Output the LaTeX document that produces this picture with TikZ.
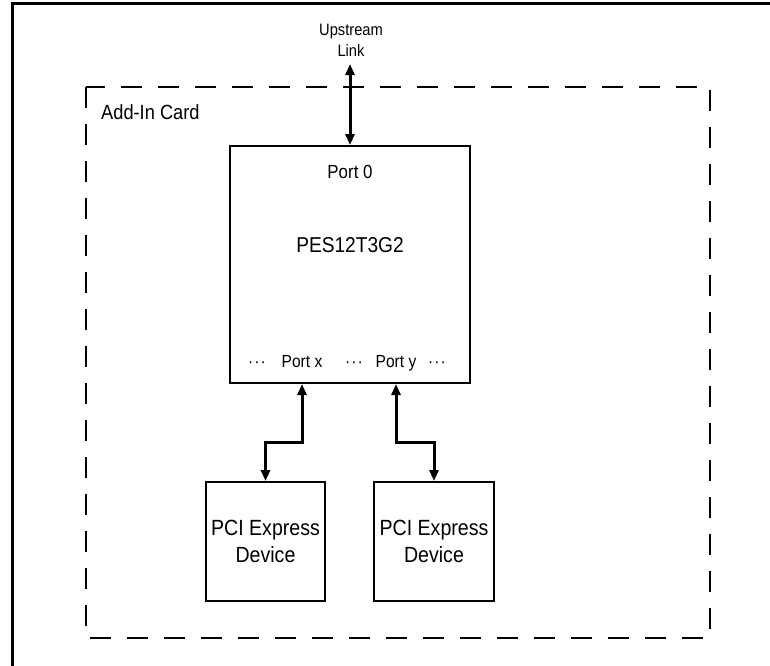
\documentclass[tikz,border=0pt]{standalone}
\usepackage{fontspec}
\setmainfont{Liberation Sans}[FakeStretch=0.89]
\usetikzlibrary{arrows.meta}
\begin{document}
\begin{tikzpicture}[x=1pt,y=-1pt,
  box/.style={draw,line width=2pt,inner sep=0pt},
  card/.style={line width=2pt,dash pattern=on 21pt off 16pt},
  link/.style={line width=3pt,{Triangle[length=11pt,width=9pt]}-{Triangle[length=11pt,width=9pt]}},
  lbl/.style={inner sep=0pt,anchor=base}]
\useasboundingbox (0,0) rectangle (770,665);
% outer frame (partly outside)
\draw[line width=3pt] (12,670) -- (12,3) -- (775,3);
% add-in card
\draw[card] (86,87) rectangle (710,638);
\node[lbl,anchor=base west,font=\fontsize{20.5}{24}\selectfont] (cardlbl) at (101,119) {Add-In Card};
% switch
\node[box,minimum width=240pt,minimum height=237pt] (chip) at (350,264.5) {};
\node[lbl,font=\fontsize{19}{22}\selectfont] (port0) at (350,178) {Port 0};
\node[lbl,font=\fontsize{21.5}{24}\selectfont] (name) at (350,252) {PES12T3G2};
\node[lbl,font=\fontsize{17.5}{20}\selectfont] (d1) at (257,367) {\textperiodcentered\kern1pt\textperiodcentered\kern1pt\textperiodcentered};
\node[lbl,font=\fontsize{17.5}{20}\selectfont] (portx) at (302,367) {Port x};
\node[lbl,font=\fontsize{17.5}{20}\selectfont] (d2) at (354,367) {\textperiodcentered\kern1pt\textperiodcentered\kern1pt\textperiodcentered};
\node[lbl,font=\fontsize{17.5}{20}\selectfont] (porty) at (396,367) {Port y};
\node[lbl,font=\fontsize{17.5}{20}\selectfont] (d3) at (437,367) {\textperiodcentered\kern1pt\textperiodcentered\kern1pt\textperiodcentered};
% upstream link
\node[inner sep=0pt,align=center,font=\fontsize{16.5}{21}\selectfont] (ulink) at (351,40) {Upstream\\Link};
\coordinate (upend) at (350,64);
% devices
\node[box,minimum width=119pt,minimum height=119pt,align=center,font=\fontsize{22}{27}\selectfont] (dev1) at (265.5,541.5) {PCI Express\\Device};
\node[box,minimum width=120pt,minimum height=119pt,align=center,font=\fontsize{22}{27}\selectfont] (dev2) at (434,541.5) {PCI Express\\Device};
% connectors
\draw[link] (upend) -- (chip.north);
\draw[link] (portx |- chip.south) -- ++(0,58) -| (dev1.north);
\draw[link] (porty |- chip.south) -- ++(0,58) -| (dev2.north);
\end{tikzpicture}
\end{document}
